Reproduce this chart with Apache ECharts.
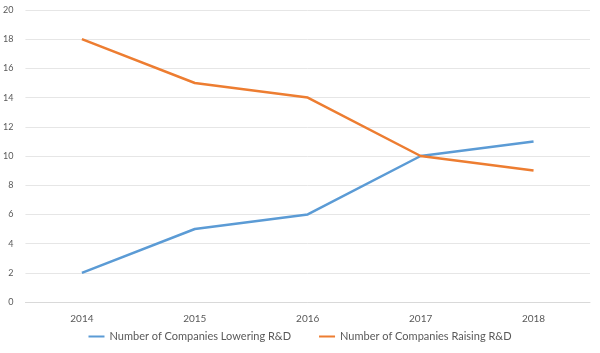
<!DOCTYPE html>
<html><head><meta charset="utf-8">
<script src="https://cdn.jsdelivr.net/npm/echarts@6/dist/echarts.min.js"></script>
<style>html,body{margin:0;padding:0;background:#fff}#c{width:600px;height:353px}</style>
</head><body><div id="c"></div>
<script>
const categories = ['2014','2015','2016','2017','2018'];
const lowering = [2,5,6,10,11];
const raising = [18,15,14,10,9];
const yTicks = [0,2,4,6,8,10,12,14,16,18,20];
const chart = echarts.init(document.getElementById('c'));
const font = 'Lato, "Open Sans", sans-serif';
chart.setOption({
  animation:false,
  backgroundColor:'#fff',
  textStyle:{fontFamily:font},
  grid:{left:25,right:10,top:10,bottom:51},
  legend:{bottom:6,left:'center',itemGap:28,itemWidth:16,itemHeight:2,icon:'rect',
    textStyle:{color:'#595959',fontSize:11,fontFamily:font},
    data:['Number of Companies Lowering R&D','Number of Companies Raising R&D']},
  xAxis:{type:'category',data:categories,boundaryGap:true,
    axisLine:{lineStyle:{color:'#D9D9D9'}},axisTick:{show:false},
    axisLabel:{color:'#595959',fontSize:10,margin:12}},
  yAxis:{type:'value',min:yTicks[0],max:yTicks[yTicks.length-1],interval:2,
    axisLine:{show:false},axisTick:{show:false},
    axisLabel:{color:'#595959',fontSize:9,margin:12},
    splitLine:{lineStyle:{color:'#E6E6E6'}}},
  series:[
    {name:'Number of Companies Lowering R&D',type:'line',data:lowering,showSymbol:false,symbol:'none',
     lineStyle:{color:'#5B9BD5',width:2.5},itemStyle:{color:'#5B9BD5'}},
    {name:'Number of Companies Raising R&D',type:'line',data:raising,showSymbol:false,symbol:'none',
     lineStyle:{color:'#ED7D31',width:2.5},itemStyle:{color:'#ED7D31'}}
  ]
});
</script></body></html>
